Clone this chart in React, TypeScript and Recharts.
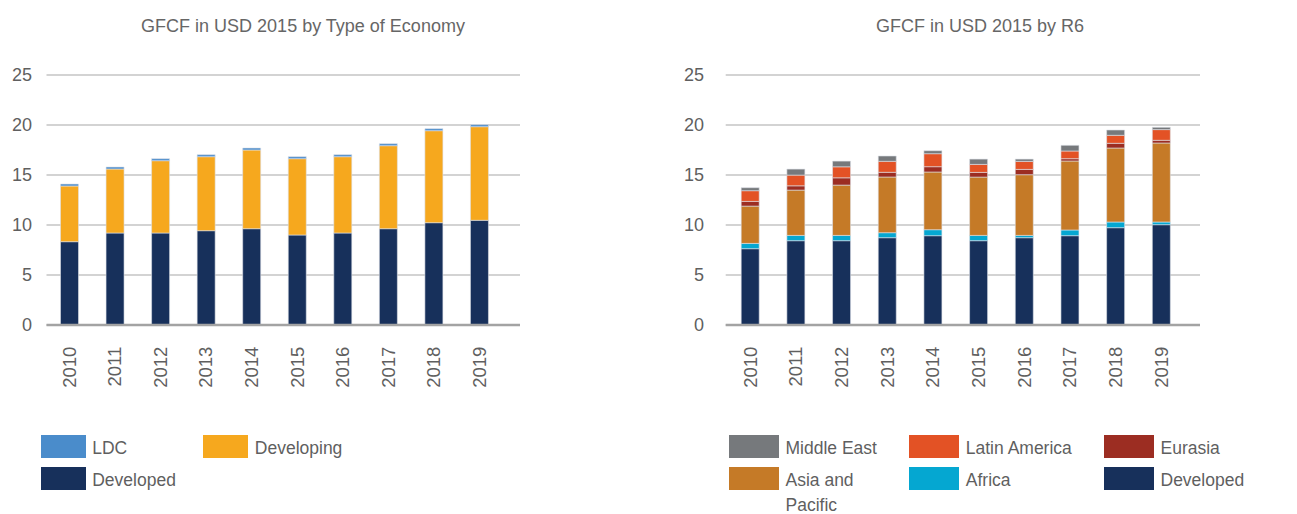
import React from "react";
import { BarChart, Bar, XAxis, YAxis, CartesianGrid } from "recharts";

const years = ["2010", "2011", "2012", "2013", "2014", "2015", "2016", "2017", "2018", "2019"];
const yTicks = [0, 5, 10, 15, 20, 25];

// Left chart: by type of economy
const developedEconomy = [8.33, 9.2, 9.2, 9.43, 9.63, 9.0, 9.2, 9.63, 10.23, 10.47];
const developingEconomy = [5.57, 6.4, 7.23, 7.4, 7.87, 7.63, 7.63, 8.3, 9.2, 9.36];
const ldcEconomy = [0.2, 0.2, 0.2, 0.2, 0.2, 0.2, 0.2, 0.2, 0.2, 0.2];

// Right chart: by R6 region
const developedR6 = [7.63, 8.43, 8.43, 8.73, 8.93, 8.43, 8.73, 8.93, 9.73, 10.03];
const africaR6 = [0.53, 0.53, 0.53, 0.5, 0.6, 0.53, 0.23, 0.57, 0.57, 0.27];
const asiaPacificR6 = [3.73, 4.53, 5.03, 5.57, 5.77, 5.83, 6.07, 6.9, 7.4, 7.9];
const eurasiaR6 = [0.47, 0.43, 0.73, 0.47, 0.53, 0.47, 0.53, 0.23, 0.47, 0.27];
const latinAmericaR6 = [1.07, 1.07, 1.1, 1.1, 1.3, 0.8, 0.8, 0.77, 0.8, 1.07];
const middleEastR6 = [0.3, 0.6, 0.57, 0.53, 0.3, 0.53, 0.23, 0.57, 0.53, 0.23];

const leftData = years.map((y, i) => ({
  year: y,
  developed: developedEconomy[i],
  developing: developingEconomy[i],
  ldc: ldcEconomy[i],
}));

const rightData = years.map((y, i) => ({
  year: y,
  developed: developedR6[i],
  africa: africaR6[i],
  asia: asiaPacificR6[i],
  eurasia: eurasiaR6[i],
  latam: latinAmericaR6[i],
  middleEast: middleEastR6[i],
}));

const C = {
  ldc: "#4a8ccb",
  developing: "#f6a81e",
  developed: "#17305b",
  middleEast: "#76797c",
  latam: "#e35225",
  eurasia: "#9c2d22",
  asia: "#c57a27",
  africa: "#05a7d1",
};

const FONT = "'Liberation Sans', Arial, sans-serif";
const TEXT = "#5f5f5f";

const XTick = (props: any) => {
  const { x, y, payload } = props;
  return (
    <text
      x={x}
      y={y}
      transform={`rotate(-90 ${x} ${y})`}
      textAnchor="end"
      dominantBaseline="central"
      fill={TEXT}
      fontSize={18.5}
      fontFamily={FONT}
    >
      {payload.value}
    </text>
  );
};

const YTick = (props: any) => {
  const { x, y, payload } = props;
  return (
    <text
      x={x}
      y={y}
      textAnchor="end"
      dominantBaseline="central"
      fill={TEXT}
      fontSize={18}
      fontFamily={FONT}
    >
      {payload.value}
    </text>
  );
};

const barStroke = "#dde1e7";

const Title = ({ cx, text }: { cx: number; text: string }) => (
  <div
    style={{
      position: "absolute",
      left: cx - 250,
      width: 500,
      top: 14.5,
      textAlign: "center",
      fontFamily: FONT,
      fontSize: 18,
      lineHeight: "22px",
      color: "#666666",
    }}
  >
    {text}
  </div>
);

const LegendItem = ({
  x,
  y,
  w,
  color,
  label,
  textWidth,
}: {
  x: number;
  y: number;
  w: number;
  color: string;
  label: string;
  textWidth?: number;
}) => (
  <>
    <div
      style={{
        position: "absolute",
        left: x,
        top: y,
        width: w,
        height: 23,
        background: color,
      }}
    />
    <div
      style={{
        position: "absolute",
        left: x + w + 6.5,
        top: y + 0.6,
        width: textWidth ?? 200,
        fontFamily: FONT,
        fontSize: 17.5,
        lineHeight: "25px",
        color: TEXT,
        whiteSpace: textWidth ? "normal" : "nowrap",
      }}
    >
      {label}
    </div>
  </>
);

export default function App() {
  return (
    <div
      style={{
        position: "absolute",
        left: 0,
        top: 0,
        width: 1297,
        height: 514,
        background: "#ffffff",
        overflow: "hidden",
      }}
    >
      <Title cx={303} text="GFCF in USD 2015 by Type of Economy" />
      <Title cx={980} text="GFCF in USD 2015 by R6" />

      <div style={{ position: "absolute", left: 0, top: 0 }}>
        <BarChart
          width={540}
          height={420}
          data={leftData}
          margin={{ top: 75, right: 20, bottom: 35, left: 0 }}
          barSize={18}
        >
          <CartesianGrid vertical={false} stroke="#c4c4c4" strokeWidth={1.5} />
          <XAxis
            dataKey="year"
            height={60}
            tickSize={0}
            tickMargin={21.7}
            tick={<XTick />}
            axisLine={{ stroke: "#a3a3a3", strokeWidth: 2.5 }}
            padding={{ left: 0, right: 18 }}
            interval={0}
          />
          <YAxis
            width={46.5}
            domain={[0, 25]}
            ticks={yTicks}
            tickSize={0}
            tickMargin={14.5}
            tick={<YTick />}
            axisLine={false}
            tickLine={false}
          />
          <Bar dataKey="developed" name="Developed" stackId="a" fill={C.developed} stroke={barStroke} strokeWidth={0.6} isAnimationActive={false} />
          <Bar dataKey="developing" name="Developing" stackId="a" fill={C.developing} stroke={barStroke} strokeWidth={0.6} isAnimationActive={false} />
          <Bar dataKey="ldc" name="LDC" stackId="a" fill={C.ldc} stroke={barStroke} strokeWidth={0.6} isAnimationActive={false} />
        </BarChart>
      </div>

      <div style={{ position: "absolute", left: 680, top: 0 }}>
        <BarChart
          width={540}
          height={420}
          data={rightData}
          margin={{ top: 75, right: 20, bottom: 35, left: 0 }}
          barSize={18}
        >
          <CartesianGrid vertical={false} stroke="#c4c4c4" strokeWidth={1.5} />
          <XAxis
            dataKey="year"
            height={60}
            tickSize={0}
            tickMargin={21.7}
            tick={<XTick />}
            axisLine={{ stroke: "#a3a3a3", strokeWidth: 2.5 }}
            padding={{ left: 1.5, right: 16 }}
            interval={0}
          />
          <YAxis
            width={45.7}
            domain={[0, 25]}
            ticks={yTicks}
            tickSize={0}
            tickMargin={21.7}
            tick={<YTick />}
            axisLine={false}
            tickLine={false}
          />
          <Bar dataKey="developed" name="Developed" stackId="b" fill={C.developed} stroke={barStroke} strokeWidth={0.6} isAnimationActive={false} />
          <Bar dataKey="africa" name="Africa" stackId="b" fill={C.africa} stroke={barStroke} strokeWidth={0.6} isAnimationActive={false} />
          <Bar dataKey="asia" name="Asia and Pacific" stackId="b" fill={C.asia} stroke={barStroke} strokeWidth={0.6} isAnimationActive={false} />
          <Bar dataKey="eurasia" name="Eurasia" stackId="b" fill={C.eurasia} stroke={barStroke} strokeWidth={0.6} isAnimationActive={false} />
          <Bar dataKey="latam" name="Latin America" stackId="b" fill={C.latam} stroke={barStroke} strokeWidth={0.6} isAnimationActive={false} />
          <Bar dataKey="middleEast" name="Middle East" stackId="b" fill={C.middleEast} stroke={barStroke} strokeWidth={0.6} isAnimationActive={false} />
        </BarChart>
      </div>

      {/* Left legend */}
      <LegendItem x={40.7} y={435} w={45} color={C.ldc} label="LDC" />
      <LegendItem x={203.3} y={435} w={45} color={C.developing} label="Developing" />
      <LegendItem x={40.7} y={467} w={45} color={C.developed} label="Developed" />

      {/* Right legend */}
      <LegendItem x={729} y={435} w={50} color={C.middleEast} label="Middle East" />
      <LegendItem x={909.3} y={435} w={50} color={C.latam} label="Latin America" />
      <LegendItem x={1104} y={435} w={50} color={C.eurasia} label="Eurasia" />
      <LegendItem x={729} y={467} w={50} color={C.asia} label="Asia and Pacific" textWidth={95} />
      <LegendItem x={909.3} y={467} w={50} color={C.africa} label="Africa" />
      <LegendItem x={1104} y={467} w={50} color={C.developed} label="Developed" />
    </div>
  );
}
